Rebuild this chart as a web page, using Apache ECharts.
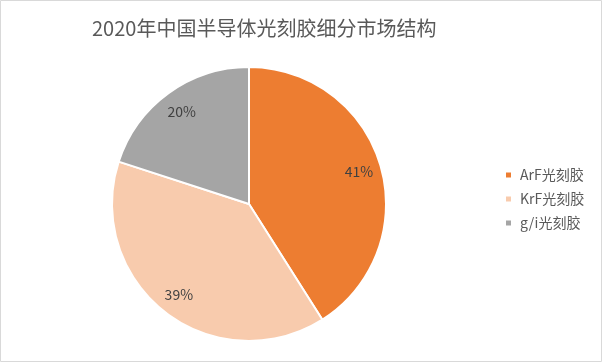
<!DOCTYPE html>
<html><head><meta charset="utf-8">
<script src="https://cdn.jsdelivr.net/npm/echarts@6/dist/echarts.min.js"></script>
<style>html,body{margin:0;padding:0;background:#fff}#c{width:602px;height:362px}</style>
</head><body><div id="c"></div>
<script>
const title = '2020年中国半导体光刻胶细分市场结构';
const categories = ['ArF光刻胶', 'KrF光刻胶', 'g/i光刻胶'];
const values = [41, 39, 20];
const colors = ['#ED7D31', '#F8CBAD', '#A5A5A5'];

const data = categories.map((n, i) => ({ name: n, value: values[i], itemStyle: { color: colors[i] } }));
const chart = echarts.init(document.getElementById('c'), null, { renderer: 'canvas' });
chart.setOption({
  animation: false,
  title: { text: title, left: 87, top: 13,
    textStyle: { fontFamily: 'Noto Sans CJK SC', fontSize: 20, fontWeight: 'normal', color: '#595959' } },
  graphic: [{ type: 'rect', shape: { x: 0.5, y: 0.5, width: 601, height: 361 },
    style: { fill: 'none', stroke: '#D9D9D9', lineWidth: 1 }, silent: true }],
  legend: { orient: 'vertical', left: 499, top: 163, itemWidth: 7, itemHeight: 7, itemGap: 10,
    icon: 'rect', data: categories,
    textStyle: { fontFamily: 'Noto Sans CJK SC', fontSize: 14, color: '#595959', padding: [0,0,0,3] } },
  series: [
    { type: 'pie', center: [249, 204], radius: [0, 137], startAngle: 90, clockwise: true,
      data: data, label: { show: false }, labelLine: { show: false },
      itemStyle: { borderColor: '#fff', borderWidth: 2 } },
    { type: 'pie', center: [249, 204], radius: [86, 137], startAngle: 90, clockwise: true, silent: true,
      data: categories.map((n, i) => ({ name: n, value: values[i], itemStyle: { color: 'rgba(0,0,0,0)' } })),
      itemStyle: { borderWidth: 0 },
      label: { show: true, position: 'inside', formatter: p => p.value + '%',
        fontFamily: 'Noto Sans CJK SC', fontSize: 14, color: '#404040' },
      labelLine: { show: false } }
  ]
});
</script></body></html>
